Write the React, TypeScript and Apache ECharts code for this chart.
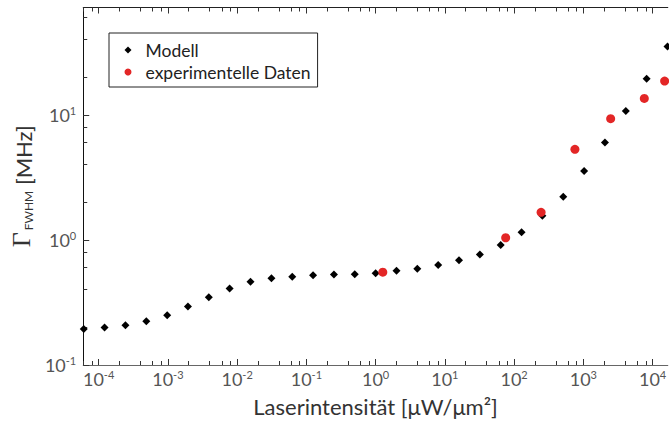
import React, { useEffect, useRef } from "react";
import * as echarts from "echarts";

// Model (black diamonds)
const modelX = [0.000061, 0.000122, 0.000244, 0.000488, 0.000977, 0.00195, 0.0039, 0.0078, 0.0156, 0.0313, 0.0625, 0.125, 0.25, 0.5, 1, 2, 4, 8, 16, 32, 64, 128, 256, 512, 1024, 2048, 4096, 8192, 16384];
const modelY = [0.194, 0.199, 0.208, 0.224, 0.25, 0.294, 0.348, 0.409, 0.462, 0.494, 0.507, 0.522, 0.529, 0.532, 0.542, 0.567, 0.589, 0.63, 0.688, 0.765, 0.91, 1.15, 1.56, 2.21, 3.55, 5.99, 10.7, 19.4, 35.1];

// Experimental data (red circles)
const expX = [1.27, 75.5, 245, 755, 2477, 7580, 14900];
const expY = [0.552, 1.04, 1.66, 5.29, 9.31, 13.5, 18.6];

const seriesNames = ["Modell", "experimentelle Daten"];

// Axis ranges and ticks
const xMin = 0.00006;
const xMax = 16556;
const yMin = 0.1;
const yMax = 72;
const xMajorTicks = [0.0001, 0.001, 0.01, 0.1, 1, 10, 100, 1000, 10000];
const xMinorTicks = [
  0.00006, 0.00008,
  0.0002, 0.0004, 0.0006, 0.0008,
  0.002, 0.004, 0.006, 0.008,
  0.02, 0.04, 0.06, 0.08,
  0.2, 0.4, 0.6, 0.8,
  2, 4, 6, 8,
  20, 40, 60, 80,
  200, 400, 600, 800,
  2000, 4000, 6000, 8000,
];
const yMajorTicks = [0.1, 1, 10];
const yMinorTicks = [0.2, 0.4, 0.6, 0.8, 2, 4, 6, 8, 20, 40, 60];

const xTitle = "Laserintensität [μW/μm²]";
const yTitleSymbol = "Γ";
const yTitleSub = "FWHM";
const yTitleUnit = " [MHz]";

const FONT = "Lato";
const LABEL_COLOR = "#555";

const powLabel = (v: number) => {
  const e = Math.round(Math.log10(v));
  return `{b|10}{e|${e}}`;
};
const powRich = {
  b: { fontFamily: FONT, fontSize: 18, color: LABEL_COLOR, lineHeight: 20 },
  e: { fontFamily: FONT, fontSize: 11, color: LABEL_COLOR, verticalAlign: "top", lineHeight: 20 },
};

export default function App() {
  const ref = useRef<HTMLDivElement>(null);
  useEffect(() => {
    if (!ref.current) return;
    const chart = echarts.init(ref.current, undefined, { renderer: "svg" });
    const common = { type: "log" as const, gridIndex: 0, splitLine: { show: false } };
    const option: any = {
      animation: false,
      backgroundColor: "#fff",
      grid: { left: 73, top: 7.5, right: 0, height: 359, containLabel: false },
      legend: {
        orient: "vertical",
        left: 109,
        top: 33,
        padding: [8, 7, 6, 15.5],
        itemWidth: 7,
        itemHeight: 7,
        itemGap: 4,
        borderColor: "#222",
        borderWidth: 1,
        borderRadius: 0,
        backgroundColor: "#fff",
        textStyle: { fontFamily: FONT, fontSize: 17.5, color: "#222", padding: [0, 0, 0, 9] },
        data: [
          { name: seriesNames[0], icon: "diamond" },
          { name: seriesNames[1], icon: "circle" },
        ],
      },
      xAxis: [
        {
          ...common,
          position: "bottom",
          min: xMin,
          max: xMax,
          axisLine: { show: true, lineStyle: { color: "#666", width: 1 } },
          axisTick: { show: true, inside: true, length: 6, customValues: xMajorTicks, lineStyle: { color: "#333" } },
          axisLabel: { show: true, customValues: xMajorTicks, formatter: powLabel, rich: powRich, margin: 4 },
          name: xTitle,
          nameLocation: "middle",
          nameGap: 30,
          nameTextStyle: { fontFamily: FONT, fontSize: 22, color: "#333" },
        },
        {
          ...common,
          position: "bottom",
          min: xMin,
          max: xMax,
          axisLine: { show: false },
          axisTick: { show: true, inside: true, length: 4, customValues: xMinorTicks, lineStyle: { color: "#333" } },
          axisLabel: { show: false },
        },
        {
          ...common,
          position: "top",
          min: xMin,
          max: xMax,
          axisLine: { show: true, lineStyle: { color: "#222", width: 1 } },
          axisTick: { show: true, inside: true, length: 6, customValues: xMajorTicks, lineStyle: { color: "#333" } },
          axisLabel: { show: false },
        },
        {
          ...common,
          position: "top",
          min: xMin,
          max: xMax,
          axisLine: { show: false },
          axisTick: { show: true, inside: true, length: 4, customValues: xMinorTicks, lineStyle: { color: "#333" } },
          axisLabel: { show: false },
        },
      ],
      yAxis: [
        {
          ...common,
          position: "left",
          min: yMin,
          max: yMax,
          axisLine: { show: true, lineStyle: { color: "#111", width: 1 } },
          axisTick: { show: true, inside: true, length: 6, customValues: yMajorTicks, lineStyle: { color: "#333" } },
          axisLabel: { show: true, customValues: yMajorTicks, formatter: powLabel, rich: powRich, margin: 7 },
          name: `{g|${yTitleSymbol}}{s|${yTitleSub}}{m|${yTitleUnit}}`,
          nameLocation: "middle",
          nameRotate: 90,
          nameGap: 42,
          nameTextStyle: {
            rich: {
              g: { fontFamily: "Liberation Serif", fontSize: 26, color: "#333", verticalAlign: "bottom", lineHeight: 24 },
              s: { fontFamily: FONT, fontSize: 12, color: "#333", verticalAlign: "bottom", lineHeight: 24, padding: [0, 0, 0, 2] },
              m: { fontFamily: FONT, fontSize: 22, color: "#333", verticalAlign: "bottom", lineHeight: 24 },
            },
          },
        },
        {
          ...common,
          position: "left",
          min: yMin,
          max: yMax,
          axisLine: { show: false },
          axisTick: { show: true, inside: true, length: 4, customValues: yMinorTicks, lineStyle: { color: "#333" } },
          axisLabel: { show: false },
        },
      ],
      series: [
        {
          name: seriesNames[0],
          type: "scatter",
          xAxisIndex: 0,
          yAxisIndex: 0,
          symbol: "diamond",
          symbolSize: 8,
          itemStyle: { color: "#000", opacity: 1 },
          data: modelX.map((x, i) => [x, modelY[i]]),
          z: 2,
        },
        {
          name: seriesNames[1],
          type: "scatter",
          xAxisIndex: 0,
          yAxisIndex: 0,
          symbol: "circle",
          symbolSize: 9,
          itemStyle: { color: "#e32626", opacity: 1 },
          data: expX.map((x, i) => [x, expY[i]]),
          z: 3,
        },
      ],
    };
    chart.setOption(option);
    return () => chart.dispose();
  }, []);
  return (
    <div
      ref={ref}
      style={{ position: "fixed", left: 0, top: 0, width: 669, height: 422 }}
    />
  );
}
